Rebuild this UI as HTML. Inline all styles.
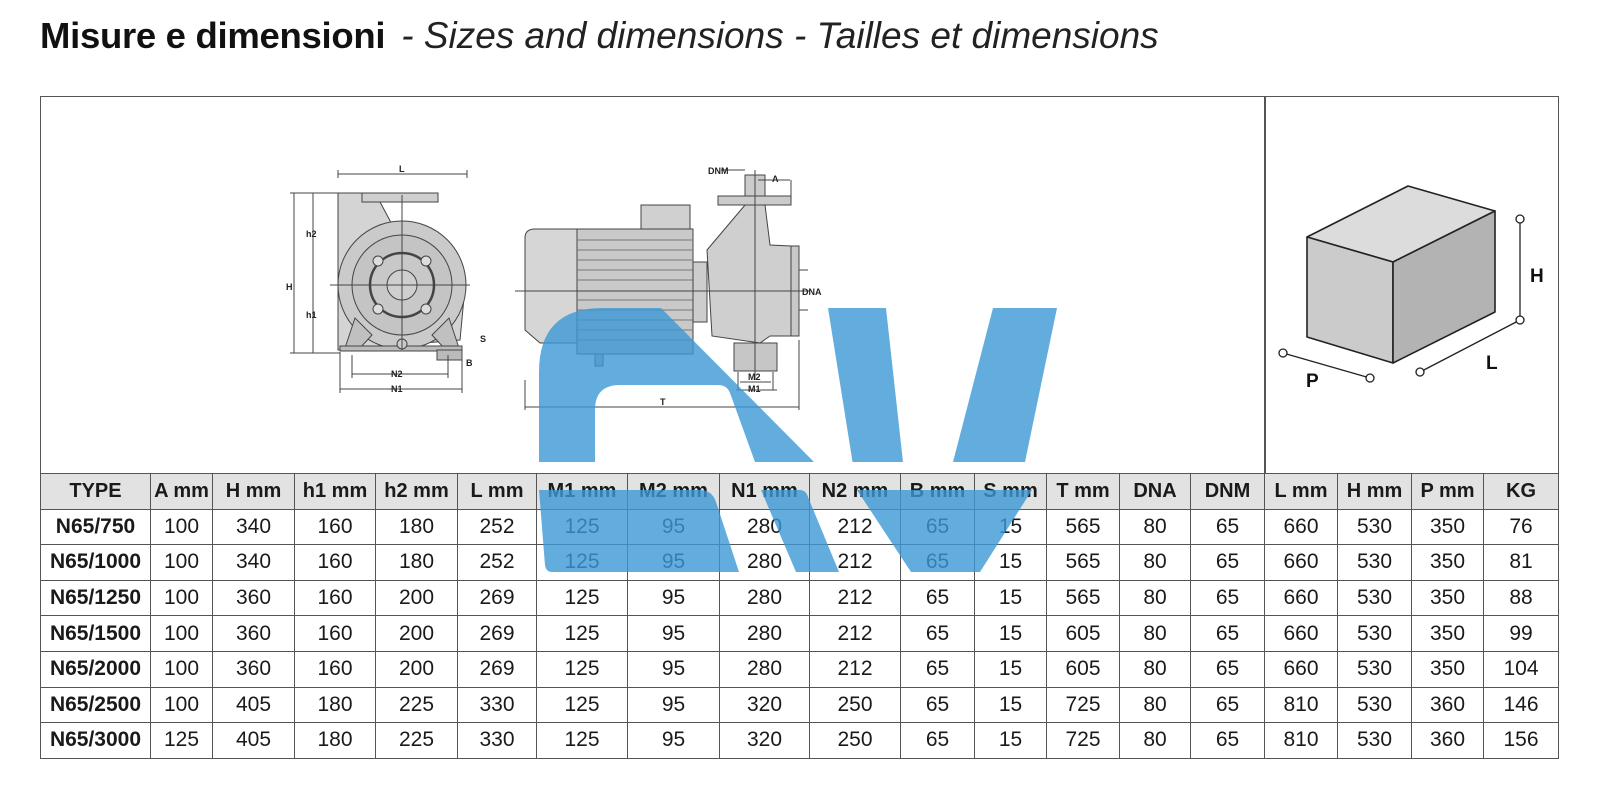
<!DOCTYPE html>
<html><head><meta charset="utf-8"><style>
html,body{margin:0;padding:0;background:#fff;}
body{width:1600px;height:796px;position:relative;overflow:hidden;font-family:"Liberation Sans",sans-serif;}
.title{position:absolute;left:40px;top:15px;white-space:nowrap;color:#111;}
.title b{font-size:36.5px;font-weight:bold;letter-spacing:-0.3px;}
.title i{font-size:37px;font-weight:normal;color:#222;margin-left:16px;}
.box{position:absolute;left:40px;top:96px;width:1517px;height:377px;border:1.5px solid #555;border-bottom:none;}
.sep{position:absolute;left:1264px;top:96px;width:1.5px;height:377px;background:#555;}
table{position:absolute;left:40px;top:473px;border-collapse:collapse;table-layout:fixed;width:1519px;}
td{border:1.5px solid #555;height:34.6px;padding:0;text-align:center;font-family:"Liberation Sans Narrow","Liberation Sans",sans-serif;font-size:21px;color:#1a1a1a;}
tr.h td{background:#e2e2e2;font-weight:bold;font-size:20px;}
td.t{font-weight:bold;}
svg{position:absolute;left:0;top:0;}
</style></head><body>
<div class="title"><b>Misure e dimensioni</b><i>- Sizes and dimensions - Tailles et dimensions</i></div>
<div class="box"></div><div class="sep"></div>

<svg width="1600" height="796" viewBox="0 0 1600 796">
<g stroke="#444" stroke-width="1" fill="none" font-family="Liberation Sans, sans-serif" font-size="9" font-weight="bold">
 <path d="M338,193 L362,193 L362,202 L380,202 L395,230 L440,240 L455,255 L465,287 L460,340 L338,350 Z" fill="#d4d4d4"/>
 <rect x="362" y="193" width="76" height="9" fill="#cfcfcf"/>
 <circle cx="402" cy="285" r="64" fill="#cacaca"/>
 <circle cx="402" cy="285" r="50" fill="#c4c4c4"/>
 <circle cx="402" cy="285" r="32" fill="#c8c8c8" stroke-width="2.5"/>
 <circle cx="402" cy="285" r="15" fill="#cfcfcf"/>
 <circle cx="378" cy="261" r="5" fill="#ddd"/><circle cx="426" cy="261" r="5" fill="#ddd"/>
 <circle cx="378" cy="309" r="5" fill="#ddd"/><circle cx="426" cy="309" r="5" fill="#ddd"/>
 <path d="M345,348 L355,318 L372,335 L360,348 Z M459,348 L449,318 L432,335 L444,348 Z" fill="#c0c0c0"/>
 <rect x="340" y="346" width="122" height="5" fill="#bbb"/>
 <rect x="437" y="350" width="25" height="10" fill="#bbb"/>
 <circle cx="402" cy="344" r="5" fill="#ccc"/>
 <path d="M338,174 H467 M338,170 V178 M467,170 V178 M294,193 V353 M313,193 V353 M290,193 H338 M290,353 H340 M330,285 H470 M402,195 V350 M352,374 H448 M340,389 H462 M352,355 V378 M448,355 V378 M340,352 V393 M462,352 V393"/>
 <text x="399" y="172" stroke="none" fill="#222">L</text>
 <text x="306" y="237" stroke="none" fill="#222">h2</text>
 <text x="286" y="290" stroke="none" fill="#222">H</text>
 <text x="306" y="318" stroke="none" fill="#222">h1</text>
 <text x="391" y="377" stroke="none" fill="#222">N2</text>
 <text x="391" y="392" stroke="none" fill="#222">N1</text>
 <text x="480" y="342" stroke="none" fill="#222">S</text>
 <text x="466" y="366" stroke="none" fill="#222">B</text>
 <path d="M525,238 Q525,229 535,229 L577,229 L577,343 L540,343 L525,330 Z" fill="#d6d6d6"/>
 <rect x="577" y="229" width="116" height="125" fill="#c9c9c9"/>
 <g stroke="#777"><path d="M577,240 H693 M577,250 H693 M577,260 H693 M577,270 H693 M577,280 H693 M577,300 H693 M577,310 H693 M577,320 H693 M577,330 H693 M577,340 H693"/></g>
 <rect x="641" y="205" width="49" height="24" fill="#d0d0d0"/>
 <rect x="693" y="262" width="14" height="60" fill="#cdcdcd"/>
 <path d="M707,250 L745,205 L765,205 L770,245 L791,246 V336 L770,336 L760,343 L712,336 Z" fill="#cfcfcf"/>
 <rect x="718" y="196" width="73" height="9" fill="#cbcbcb"/>
 <rect x="745" y="175" width="20" height="21" fill="#cbcbcb"/>
 <rect x="791" y="246" width="8" height="90" fill="#c8c8c8"/>
 <path d="M734,343 H777 V371 H734 Z" fill="#c6c6c6"/>
 <rect x="595" y="354" width="8" height="12" fill="#bbb"/>
 <path d="M515,291 H810 M755,170 V380 M525,407 H799 M525,380 V410 M799,340 V410 M758,180 H790 M791,180 V196 M799,270 H808 M799,310 H808 M738,372 V390 M773,372 V390 M740,382 H771 M736,390 H777 M721,170 H745"/>
 <text x="708" y="174" stroke="none" fill="#222">DNM</text>
 <text x="772" y="182" stroke="none" fill="#222">A</text>
 <text x="802" y="295" stroke="none" fill="#222">DNA</text>
 <text x="748" y="380" stroke="none" fill="#222">M2</text>
 <text x="748" y="392" stroke="none" fill="#222">M1</text>
 <text x="660" y="405" stroke="none" fill="#222">T</text>
</g>
<g stroke="#222" stroke-width="1.6" stroke-linejoin="round">
 <polygon points="1307,237 1408,186 1495,211 1393,262" fill="#dcdcdc"/>
 <polygon points="1307,237 1393,262 1393,363 1307,337" fill="#cbcbcb"/>
 <polygon points="1393,262 1495,211 1495,312 1393,363" fill="#b3b3b3"/>
 <path d="M1520,219 V320 M1283,353 L1370,378 M1420,372 L1520,320" fill="none" stroke-width="1.3"/>
 <g fill="#fff" stroke-width="1.3"><circle cx="1520" cy="219" r="4"/><circle cx="1520" cy="320" r="4"/><circle cx="1283" cy="353" r="4"/><circle cx="1370" cy="378" r="4"/><circle cx="1420" cy="372" r="4"/></g>
</g>
<g font-family="Liberation Sans, sans-serif" font-weight="bold" font-size="19" fill="#111">
 <text x="1530" y="282">H</text><text x="1306" y="387">P</text><text x="1486" y="369">L</text>
</g>
</svg>

<table>
<colgroup><col style="width:110px"><col style="width:62px"><col style="width:82px"><col style="width:81px"><col style="width:82px"><col style="width:79px"><col style="width:91px"><col style="width:92px"><col style="width:90px"><col style="width:91px"><col style="width:74px"><col style="width:72px"><col style="width:73px"><col style="width:71px"><col style="width:74px"><col style="width:73px"><col style="width:74px"><col style="width:72px"><col style="width:75px"></colgroup>
<tr class="h"><td>TYPE</td><td>A mm</td><td>H mm</td><td>h1 mm</td><td>h2 mm</td><td>L mm</td><td>M1 mm</td><td>M2 mm</td><td>N1 mm</td><td>N2 mm</td><td>B mm</td><td>S mm</td><td>T mm</td><td>DNA</td><td>DNM</td><td>L mm</td><td>H mm</td><td>P mm</td><td>KG</td></tr>
<tr><td class="t">N65/750</td><td>100</td><td>340</td><td>160</td><td>180</td><td>252</td><td>125</td><td>95</td><td>280</td><td>212</td><td>65</td><td>15</td><td>565</td><td>80</td><td>65</td><td>660</td><td>530</td><td>350</td><td>76</td></tr>
<tr><td class="t">N65/1000</td><td>100</td><td>340</td><td>160</td><td>180</td><td>252</td><td>125</td><td>95</td><td>280</td><td>212</td><td>65</td><td>15</td><td>565</td><td>80</td><td>65</td><td>660</td><td>530</td><td>350</td><td>81</td></tr>
<tr><td class="t">N65/1250</td><td>100</td><td>360</td><td>160</td><td>200</td><td>269</td><td>125</td><td>95</td><td>280</td><td>212</td><td>65</td><td>15</td><td>565</td><td>80</td><td>65</td><td>660</td><td>530</td><td>350</td><td>88</td></tr>
<tr><td class="t">N65/1500</td><td>100</td><td>360</td><td>160</td><td>200</td><td>269</td><td>125</td><td>95</td><td>280</td><td>212</td><td>65</td><td>15</td><td>605</td><td>80</td><td>65</td><td>660</td><td>530</td><td>350</td><td>99</td></tr>
<tr><td class="t">N65/2000</td><td>100</td><td>360</td><td>160</td><td>200</td><td>269</td><td>125</td><td>95</td><td>280</td><td>212</td><td>65</td><td>15</td><td>605</td><td>80</td><td>65</td><td>660</td><td>530</td><td>350</td><td>104</td></tr>
<tr><td class="t">N65/2500</td><td>100</td><td>405</td><td>180</td><td>225</td><td>330</td><td>125</td><td>95</td><td>320</td><td>250</td><td>65</td><td>15</td><td>725</td><td>80</td><td>65</td><td>810</td><td>530</td><td>360</td><td>146</td></tr>
<tr><td class="t">N65/3000</td><td>125</td><td>405</td><td>180</td><td>225</td><td>330</td><td>125</td><td>95</td><td>320</td><td>250</td><td>65</td><td>15</td><td>725</td><td>80</td><td>65</td><td>810</td><td>530</td><td>360</td><td>156</td></tr>
</table>

<svg width="1600" height="796" viewBox="0 0 1600 796" style="pointer-events:none">
<defs><clipPath id="c"><rect x="0" y="0" width="1600" height="462"/><rect x="0" y="490" width="1600" height="306"/></clipPath></defs>
<g clip-path="url(#c)" fill="rgb(60,152,214)" fill-opacity="0.8">
 <path d="M539,462 V372 Q539,308 603,308 H661 L814,462 H755 L730,393 Q727,385 718,385 H620 Q595,385 595,410 V462 Z"/>
 <path d="M539,490 H700 Q712,490 716,502 L739,572 H552 Q546,572 545,565 Z"/>
 <path d="M761,490 H800 Q806,490 808,497 L839,572 H796 Z"/>
 <path d="M828,308 H886 L903,462 H953 L993,308 H1057 L1025,462 L1032,490 L980,572 H911 L857,490 Z"/>
</g>
</svg>
</body></html>
